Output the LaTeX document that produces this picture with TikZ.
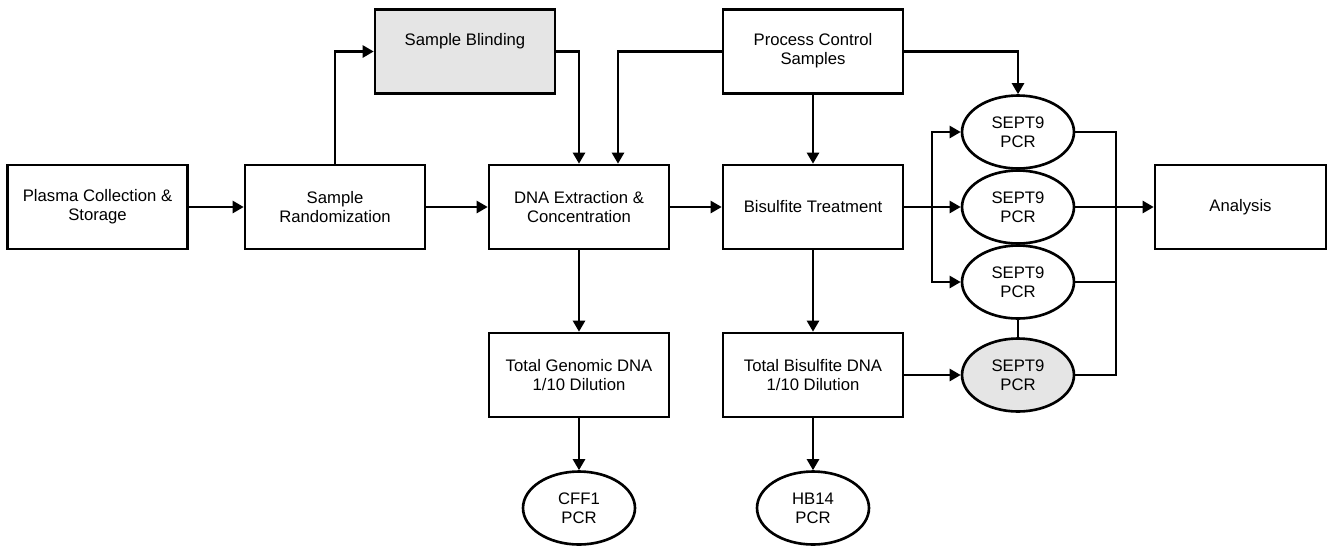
\documentclass[tikz,border=0pt]{standalone}
\usepackage{fontspec}
\setmainfont{Liberation Sans}
\usetikzlibrary{arrows.meta,shapes.geometric}
\tikzset{
	stage/.style={draw,line width=1.5pt,minimum width=3.6cm,minimum height=1.68cm,align=center,inner sep=1pt},
	pcr/.style={draw,ellipse,line width=1.5pt,minimum width=2.24cm,minimum height=1.46cm,align=center,inner sep=0pt},
	link/.style={line width=1.4pt},
	arr/.style={link,-{Triangle[length=0.22cm,width=0.24cm]}},
	every node/.style={font=\fontsize{9.5}{11}\selectfont}
}
\begin{document}
\begin{tikzpicture}[x=0.02cm,y=-0.02cm]
		%sept9 workflow
		\useasboundingbox (0,0) rectangle (1334,545);
		\node[stage] (plasma) at (97.5,207) {Plasma Collection \&\\Storage};
		\node[stage] (rand) at (335,207) {Sample\\Randomization};
		\node[stage,fill=gray!20,text height=0pt,text depth=0.26cm] (blind) at (465,51.5) {Sample Blinding};
		\node[stage] (dna) at (579,207) {DNA Extraction \&\\Concentration};
		\node[stage,text height=0.52cm,text depth=0pt] (proc) at (813,51.5) {Process Control\\Samples};
		\node[stage] (bis) at (813,207) {Bisulfite Treatment};
		\node[stage] (gen) at (579,375) {Total Genomic DNA\\1/10 Dilution};
		\node[stage] (bisdna) at (813,375) {Total Bisulfite DNA\\1/10 Dilution};
		\node[pcr] (cff) at (579,508) {CFF1\\PCR};
		\node[pcr] (hb) at (813,508) {HB14\\PCR};
		\node[pcr] (s1) at (1018,132) {SEPT9\\PCR};
		\node[pcr] (s2) at (1018,207) {SEPT9\\PCR};
		\node[pcr] (s3) at (1018,282) {SEPT9\\PCR};
		\node[pcr,fill=gray!20] (s4) at (1018,375) {SEPT9\\PCR};
		\node[stage,minimum width=3.42cm] (ana) at (1240.5,207) {Analysis};
		\coordinate (lbus) at (932,207);
		\coordinate (rbus) at (1116,207);
		\draw[arr] (plasma.east)--(rand.west);
		\draw[arr] (rand.north) |- (blind.west);
		\draw[arr] (blind.east) -| (dna.north);
		\draw[arr] (proc.west) -| ([xshift=0.78cm]dna.north);
		\draw[arr] (proc.east) -| (s1.north);
		\draw[arr] (proc.south)--(bis.north);
		\draw[arr] (rand.east)--(dna.west);
		\draw[arr] (dna.east)--(bis.west);
		\draw[arr] (bis.east)--(s2.west);
		\draw[arr] (lbus) |- (s1.west);
		\draw[arr] (lbus) |- (s3.west);
		\draw[arr] (dna.south)--(gen.north);
		\draw[arr] (bis.south)--(bisdna.north);
		\draw[arr] (gen.south)--(cff.north);
		\draw[arr] (bisdna.south)--(hb.north);
		\draw[arr] (bisdna.east)--(s4.west);
		\draw[arr] (s2.east)--(ana.west);
		\draw[link] (s1.east) -| (rbus);
		\draw[link] (s3.east) -| (rbus);
		\draw[link] (s4.east) -| (rbus);
		\draw[link] (s1.south)--(s2.north);
		\draw[link] (s2.south)--(s3.north);
		\draw[link] (s3.south)--(s4.north);
\end{tikzpicture}
\end{document}
